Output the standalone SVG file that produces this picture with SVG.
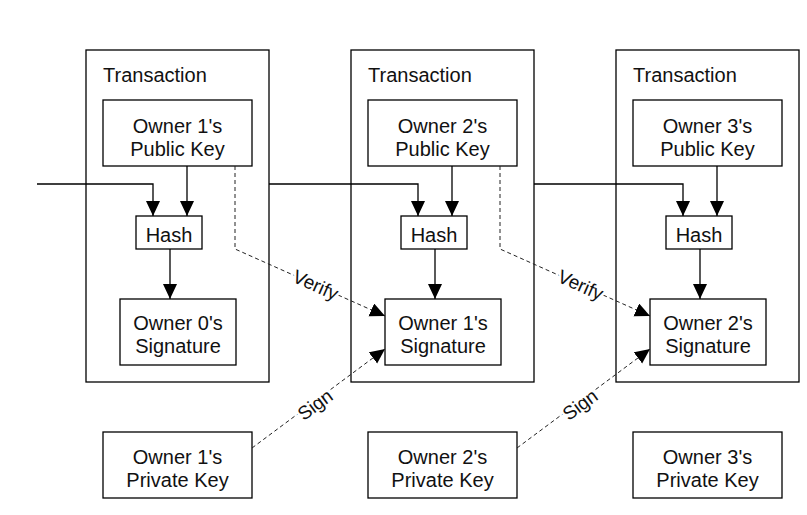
<svg xmlns="http://www.w3.org/2000/svg" width="807" height="515" viewBox="0 0 807 515">
<style>
.box{fill:#fff;stroke:#000;stroke-width:1.3}
.frame{fill:none;stroke:#000;stroke-width:1.3}
text{font-family:"Liberation Sans",Arial,sans-serif;font-size:20px;fill:#111}
.c{text-anchor:middle}
.lbl{font-size:19px;text-anchor:middle;stroke:#fff;stroke-width:5;paint-order:stroke;stroke-linejoin:round}
.solid{fill:none;stroke:#000;stroke-width:1.3}
.dash{fill:none;stroke:#222;stroke-width:1;stroke-dasharray:4 3}
</style>
<defs>
<marker id="ah" markerUnits="userSpaceOnUse" markerWidth="17" markerHeight="15" refX="15" refY="7" orient="auto">
<path d="M0,0 L15,7 L0,14 Z" fill="#000"/>
</marker>
</defs>
<rect width="807" height="515" fill="#fff"/>

<g id="tx1">
<rect class="frame" x="86" y="50" width="183" height="332"/>
<text x="103" y="82">Transaction</text>
</g>
<g id="tx2">
<rect class="frame" x="351" y="50" width="183" height="332"/>
<text x="368" y="82">Transaction</text>
</g>
<g id="tx3">
<rect class="frame" x="616" y="50" width="183" height="332"/>
<text x="633" y="82">Transaction</text>
</g>

<g id="pub1"><rect class="box" x="103" y="100" width="149" height="66"/><text class="c" x="177.5" y="133">Owner 1's</text><text class="c" x="177.5" y="156">Public Key</text></g>
<g id="pub2"><rect class="box" x="368" y="100" width="149" height="66"/><text class="c" x="442.5" y="133">Owner 2's</text><text class="c" x="442.5" y="156">Public Key</text></g>
<g id="pub3"><rect class="box" x="633" y="100" width="149" height="66"/><text class="c" x="707.5" y="133">Owner 3's</text><text class="c" x="707.5" y="156">Public Key</text></g>

<g id="hash1"><rect class="box" x="136" y="216" width="66" height="33"/><text class="c" x="169" y="242">Hash</text></g>
<g id="hash2"><rect class="box" x="401" y="216" width="66" height="33"/><text class="c" x="434" y="242">Hash</text></g>
<g id="hash3"><rect class="box" x="666" y="216" width="66" height="33"/><text class="c" x="699" y="242">Hash</text></g>

<g id="sig0"><rect class="box" x="120" y="299" width="116" height="66"/><text class="c" x="178" y="330">Owner 0's</text><text class="c" x="178" y="353">Signature</text></g>
<g id="sig1"><rect class="box" x="385" y="299" width="116" height="66"/><text class="c" x="443" y="330">Owner 1's</text><text class="c" x="443" y="353">Signature</text></g>
<g id="sig2"><rect class="box" x="650" y="299" width="116" height="66"/><text class="c" x="708" y="330">Owner 2's</text><text class="c" x="708" y="353">Signature</text></g>

<g id="priv1"><rect class="box" x="103" y="432" width="149" height="66"/><text class="c" x="177.5" y="464">Owner 1's</text><text class="c" x="177.5" y="487">Private Key</text></g>
<g id="priv2"><rect class="box" x="368" y="432" width="149" height="66"/><text class="c" x="442.5" y="464">Owner 2's</text><text class="c" x="442.5" y="487">Private Key</text></g>
<g id="priv3"><rect class="box" x="633" y="432" width="149" height="66"/><text class="c" x="707.5" y="464">Owner 3's</text><text class="c" x="707.5" y="487">Private Key</text></g>

<g id="connectors">
<path class="solid" d="M37,184 H153 V216" marker-end="url(#ah)"/>
<path class="solid" d="M187,166 V216" marker-end="url(#ah)"/>
<path class="solid" d="M170,249 V299" marker-end="url(#ah)"/>
<path class="solid" d="M269,184 H418 V216" marker-end="url(#ah)"/>
<path class="solid" d="M452,166 V216" marker-end="url(#ah)"/>
<path class="solid" d="M435,249 V299" marker-end="url(#ah)"/>
<path class="solid" d="M534,184 H683 V216" marker-end="url(#ah)"/>
<path class="solid" d="M717,166 V216" marker-end="url(#ah)"/>
<path class="solid" d="M700,249 V299" marker-end="url(#ah)"/>

<path class="dash" d="M235,166 V249 L385,316" marker-end="url(#ah)"/>
<path class="dash" d="M500,166 V249 L650,316" marker-end="url(#ah)"/>
<path class="dash" d="M252,448 L385,349" marker-end="url(#ah)"/>
<path class="dash" d="M517,448 L650,349" marker-end="url(#ah)"/>

<text class="lbl" transform="translate(313,291) rotate(24)">Verify</text>
<text class="lbl" transform="translate(578,291) rotate(24)">Verify</text>
<text class="lbl" transform="translate(319,410) rotate(-36.5)">Sign</text>
<text class="lbl" transform="translate(584,410) rotate(-36.5)">Sign</text>
</g>
</svg>
